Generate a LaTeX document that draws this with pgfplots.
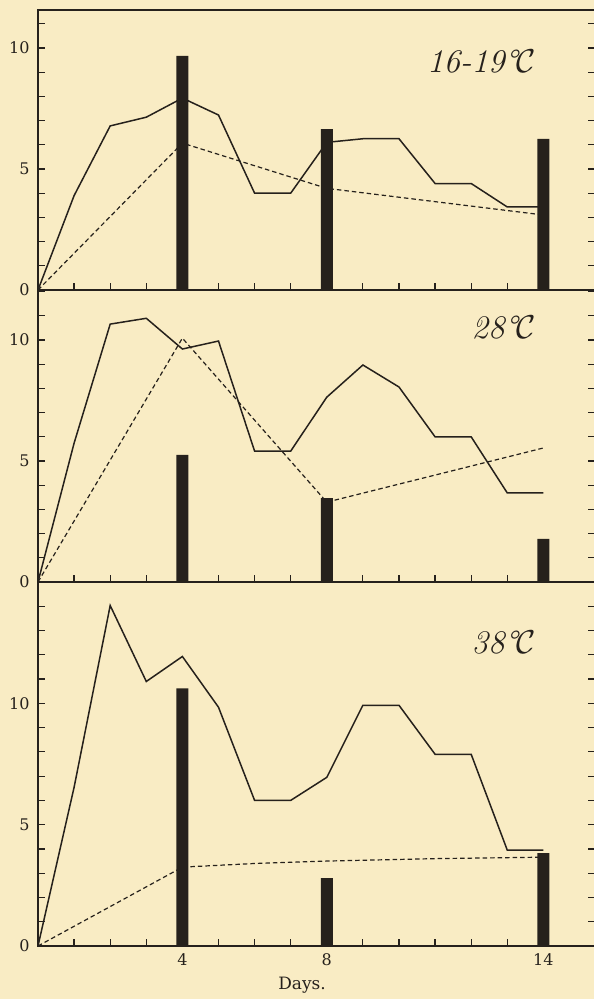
\RequirePackage{fix-cm}
\documentclass[border=0pt]{standalone}
\usepackage{fontspec}
\newfontfamily\tickfont{DejaVu Serif}
\usepackage{pgfplots}
\pgfplotsset{compat=1.18}
\definecolor{bg}{RGB}{249,236,196}
\definecolor{ink}{RGB}{38,33,28}
\tikzset{templabel/.style={anchor=east, ink, font=\itshape\fontsize{33}{35}\selectfont}}
\pgfplotsset{panel/.style={
  scale only axis, width=557pt, xmin=0, xmax=15.43, ymin=0,
  axis line style={ink, line width=1.8pt},
  tick align=inside, xtick pos=bottom, ytick pos=both,
  major tick length=7pt, minor tick length=7pt,
  every tick/.style={ink, line width=1.2pt},
  xtick={4,8,14}, minor xtick={1,...,14},
  ytick={0,5,10}, minor ytick={0,...,15},
  /pgf/number format/assume math mode=true,
  yticklabel style={font=\tickfont\fontsize{16}{18}\selectfont, text=ink, xshift=-5pt},
  xticklabel style={font=\tickfont\fontsize{16}{18}\selectfont, text=ink, yshift=-4pt},
  solid line/.style={ink, line width=1.5pt},
  dash line/.style={ink, line width=1.2pt, dash pattern=on 4.5pt off 3pt},
  bars/.style={ybar, bar width=12pt, fill=ink, draw=none},
}}
\begin{document}
\begin{tikzpicture}
\fill[bg] (-38pt,-53pt) rectangle (556pt,946pt);
% bottom panel 38 C
\begin{axis}[panel, height=364pt, ymax=15, at={(0pt,0pt)}, anchor=south west,
  xlabel={Days.},
  xlabel style={font=\tickfont\fontsize{17}{19}\selectfont, text=ink,
    at={(axis description cs:0.474,0)}, anchor=center, yshift=-39pt}]
\addplot[solid line] coordinates {(0,0)(1,6.54)(2,14.03)(3,10.9)(4,11.93)(5,9.84)(6,6.0)(7,6.0)(8,6.95)(9,9.92)(10,9.92)(11,7.9)(12,7.9)(13,3.95)(14,3.95)};
\addplot[dash line] coordinates {(0,0)(4,3.25)(6,3.4)(8,3.5)(11,3.6)(14,3.66)};
\addplot[bars] coordinates {(4,10.62)(8,2.8)(14,3.83)};
\node[templabel] at (axis cs:13.9,12.5) {38°$\mathcal{C}$};
\end{axis}
% middle panel 28 C
\begin{axis}[panel, height=292pt, ymax=12.07, at={(0pt,364pt)}, anchor=south west, xticklabels={,,}]
\addplot[solid line] coordinates {(0,0)(1,5.74)(2,10.66)(3,10.9)(4,9.63)(5,9.96)(6,5.41)(7,5.41)(8,7.64)(9,8.97)(10,8.06)(11,6.0)(12,6.0)(13,3.68)(14,3.68)};
\addplot[dash line] coordinates {(0,0)(4,10.08)(8,3.3)(14,5.54)};
\addplot[bars] coordinates {(4,5.25)(8,3.47)(14,1.78)};
\node[templabel] at (axis cs:13.9,10.5) {28°$\mathcal{C}$};
\end{axis}
% top panel 16-19 C
\begin{axis}[panel, height=280pt, ymax=11.57, at={(0pt,656pt)}, anchor=south west, xticklabels={,,}]
\addplot[solid line] coordinates {(0,0)(1,3.9)(2,6.78)(3,7.14)(4,7.93)(5,7.23)(6,4.0)(7,4.0)(8,6.1)(9,6.25)(10,6.25)(11,4.4)(12,4.4)(13,3.43)(14,3.43)};
\addplot[dash line] coordinates {(0,0)(4,6.07)(8,4.2)(14,3.1)};
\addplot[bars] coordinates {(4,9.67)(8,6.65)(14,6.24)};
\node[templabel] at (axis cs:13.9,9.42) {16-19°$\mathcal{C}$};
\end{axis}
\pgfresetboundingbox
\useasboundingbox (-38pt,-53pt) rectangle (556pt,946pt);
\end{tikzpicture}
\end{document}
